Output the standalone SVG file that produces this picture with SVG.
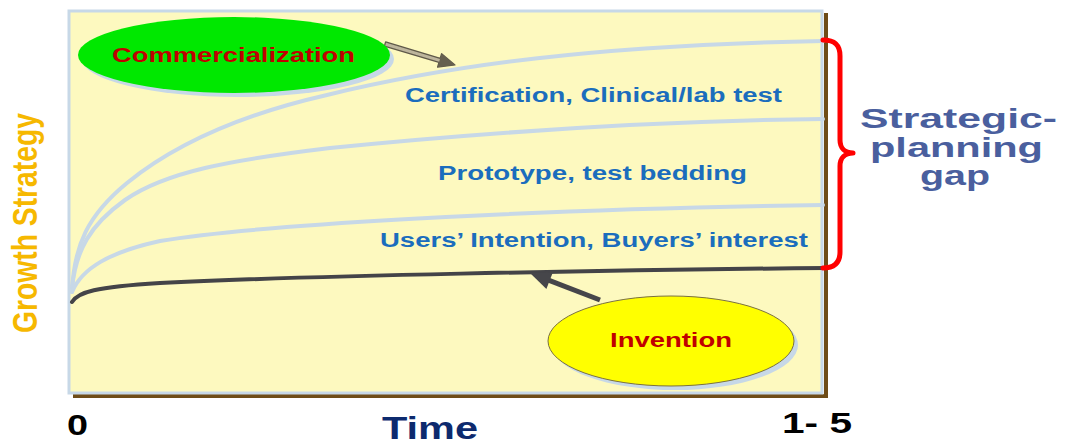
<svg xmlns="http://www.w3.org/2000/svg" width="1066" height="446" viewBox="0 0 1066 446">
  <style>
    .b { font-family: "Liberation Sans", Arial, sans-serif; font-weight: bold; }
    .stage { fill: #1b6dbd; font-size: 20px; }
    .node-label { fill: #c00000; font-size: 21px; }
    .curve { fill: none; stroke: #c7d8e7; stroke-width: 4; stroke-linecap: round; }
    .axis-num { fill: #000; font-size: 30px; }
  </style>

  <rect width="1066" height="446" fill="#ffffff"/>

  <!-- plot area -->
  <g id="plot-frame">
    <line x1="826" y1="13" x2="826" y2="398" stroke="#6e4c17" stroke-width="4"/>
    <line x1="73" y1="396" x2="828" y2="396" stroke="#6e4c17" stroke-width="4"/>
    <rect x="69" y="11" width="753" height="382" fill="#fdf9bf" stroke="#c7d8e7" stroke-width="3"/>
  </g>

  <!-- growth curves -->
  <g id="connectors">
    <path class="curve" d="M72,292 C74,245 88,215 127,183 C170,148 235,116 327,95 C450,65 600,45 823,41"/>
    <path class="curve" d="M72,288 C76,250 90,225 125,200 C165,172 230,160 330,148 C480,133 650,121 823,119"/>
    <path class="curve" d="M72,292 C82,268 110,252 160,241 C250,226 500,210 823,205"/>
    <path d="M72,302 C78,292 95,287 160,283 C300,276 600,270 826,268" fill="none" stroke="#444448" stroke-width="4" stroke-linecap="round"/>

    <!-- arrow from Commercialization -->
    <g transform="translate(385,44) rotate(16.7)">
      <polygon points="0,-2.2 57,-2.2 57,-7 73,0 57,7 57,2.2 0,2.2" fill="#bdb59c" stroke="#5f5949" stroke-width="1.3" stroke-linejoin="round"/>
      <polygon points="57,-7 73,0 57,7" fill="#66604f"/>
    </g>

    <!-- arrow from Invention -->
    <g transform="translate(600,300) rotate(-158.9)">
      <line x1="0" y1="0" x2="58" y2="0" stroke="#46464a" stroke-width="5"/>
      <polygon points="54,-9 75,0 54,9" fill="#46464a"/>
    </g>
  </g>

  <!-- stage labels -->
  <g id="stage-labels" class="b">
    <text class="stage" x="405" y="102" textLength="377" lengthAdjust="spacingAndGlyphs">Certification, Clinical/lab test</text>
    <text class="stage" x="438" y="180" textLength="309" lengthAdjust="spacingAndGlyphs">Prototype, test bedding</text>
    <text class="stage" x="380" y="247" textLength="428" lengthAdjust="spacingAndGlyphs">Users’ Intention, Buyers’ interest</text>
  </g>

  <!-- Commercialization node -->
  <g id="commercialization">
    <ellipse cx="238" cy="59" rx="156" ry="38" fill="#c7d8e7"/>
    <ellipse cx="234" cy="55" rx="156" ry="38" fill="#00e800"/>
    <text class="b node-label" x="112" y="62" textLength="243" lengthAdjust="spacingAndGlyphs">Commercialization</text>
  </g>

  <!-- Invention node -->
  <g id="invention">
    <ellipse cx="675" cy="345" rx="123" ry="45" fill="#c7d8e7"/>
    <ellipse cx="671" cy="341" rx="123" ry="45" fill="#ffff00" stroke="#7a7040" stroke-width="1"/>
    <text class="b node-label" x="610" y="347" textLength="122" lengthAdjust="spacingAndGlyphs">Invention</text>
  </g>

  <!-- strategic-planning gap brace -->
  <g id="planning-gap">
    <path d="M823,40 C835,40 840,45 840,56 L840,140 C840,148 845,153 853,153 C845,153 840,158 840,166 L840,252 C840,262 835,268 823,268" fill="none" stroke="#ff0000" stroke-width="5" stroke-linecap="round" stroke-linejoin="round"/>
    <g class="b" fill="#4a5f9e" font-size="28">
      <text x="860" y="128" textLength="197" lengthAdjust="spacingAndGlyphs">Strategic-</text>
      <text x="870" y="157" textLength="173" lengthAdjust="spacingAndGlyphs">planning</text>
      <text x="920" y="185" textLength="70" lengthAdjust="spacingAndGlyphs">gap</text>
    </g>
  </g>

  <!-- axes labels -->
  <g id="axis-labels" class="b">
    <text transform="translate(37,223) scale(1.25,1) rotate(-90)" text-anchor="middle" font-size="28" fill="#f6b800" textLength="220" lengthAdjust="spacingAndGlyphs">Growth Strategy</text>
    <text class="axis-num" x="67" y="435" textLength="21" lengthAdjust="spacingAndGlyphs">0</text>
    <text class="axis-num" x="782" y="433" textLength="70" lengthAdjust="spacingAndGlyphs">1- 5</text>
    <text x="382" y="439" font-size="31" fill="#0d2a6e" textLength="96" lengthAdjust="spacingAndGlyphs">Time</text>
  </g>
</svg>
